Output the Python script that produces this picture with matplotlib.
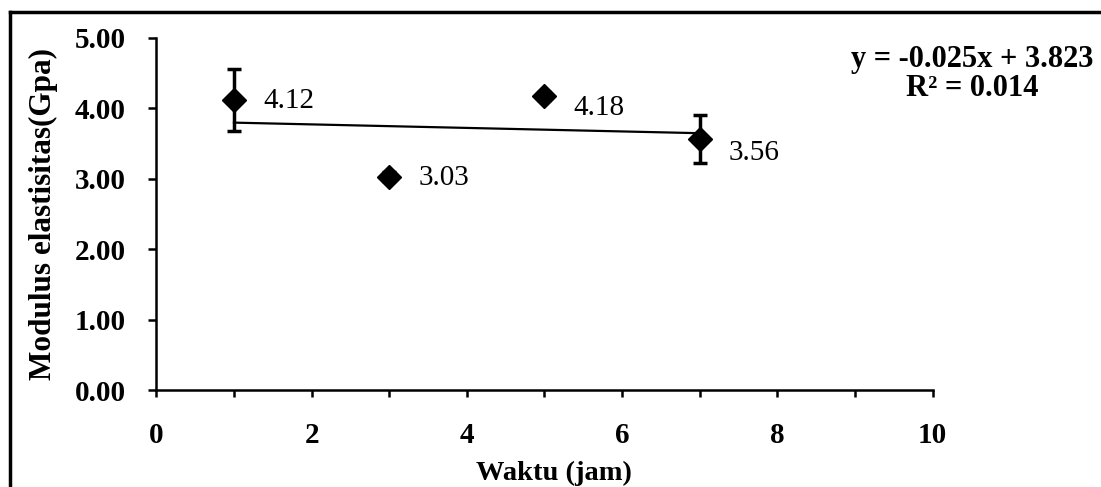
import matplotlib
matplotlib.use("Agg")
import matplotlib.pyplot as plt
from matplotlib.lines import Line2D
from matplotlib.ticker import MultipleLocator, FormatStrFormatter

# Elastic modulus vs. time
waktu = [1, 3, 5, 7]
modulus = [4.12, 3.03, 4.18, 3.56]
galat = [0.44, 0.06, 0.06, 0.34]
slope = -0.025
intercept = 3.823
r2 = 0.014

# vertical nudge (points) for each value label
label_dy = [-1, -1, -9, -10]

plt.rcParams['font.family'] = ['Liberation Serif', 'DejaVu Serif']

fig = plt.figure(figsize=(11.01, 4.87), dpi=100)
ax = fig.add_axes([0.142, 0.199, 0.705, 0.723])

ax.errorbar(waktu, modulus, yerr=galat, fmt='D', color='black', markersize=12,
            elinewidth=2.5, capsize=5, capthick=2.5, zorder=3)

# Linear trend line
x_fit = [waktu[0], waktu[-1]]
y_fit = [slope * x + intercept for x in x_fit]
ax.plot(x_fit, y_fit, color='black', linewidth=1.6, zorder=2)

for x, y, dy in zip(waktu, modulus, label_dy):
    ax.annotate(f"{y:.2f}", (x, y), xytext=(21, dy), textcoords='offset points',
                fontsize=21, va='center', ha='left')

fig.text(0.993, 0.908, f"y = {slope:.3f}x + {intercept:.3f}\nR² = {r2:.3f}",
         ha='right', va='top', fontsize=22, fontweight='bold',
         multialignment='center', linespacing=1.0)

ax.set_xlim(0, 10)
ax.set_ylim(0, 5)
ax.xaxis.set_major_locator(MultipleLocator(2))
ax.xaxis.set_minor_locator(MultipleLocator(1))
ax.yaxis.set_major_locator(MultipleLocator(1))
ax.yaxis.set_major_formatter(FormatStrFormatter('%.2f'))

for side in ('top', 'right'):
    ax.spines[side].set_visible(False)
for side in ('left', 'bottom'):
    ax.spines[side].set_linewidth(1.8)

ax.tick_params(axis='both', which='both', direction='out', width=1.8,
               labelsize=21)
ax.tick_params(axis='y', which='major', length=6, pad=16)
ax.tick_params(axis='x', which='both', length=5)
ax.tick_params(axis='x', which='major', pad=18)
for lab in ax.get_xticklabels() + ax.get_yticklabels():
    lab.set_fontweight('bold')

ax.set_xlabel("Waktu (jam)", fontsize=20.5, fontweight='bold')
ax.set_ylabel("Modulus elastisitas(Gpa)", fontsize=22.5, fontweight='bold')
ax.xaxis.set_label_coords(0.512, -0.2)
ax.yaxis.set_label_coords(-0.127, 0.5)

# Frame around the figure (left and top edges)
fig.add_artist(Line2D([0.009, 0.009], [0.0, 0.975], transform=fig.transFigure,
                      color='black', linewidth=2.5))
fig.add_artist(Line2D([0.009, 1.0], [0.975, 0.975], transform=fig.transFigure,
                      color='black', linewidth=2.5))

fig.savefig("out.png", dpi=100)
